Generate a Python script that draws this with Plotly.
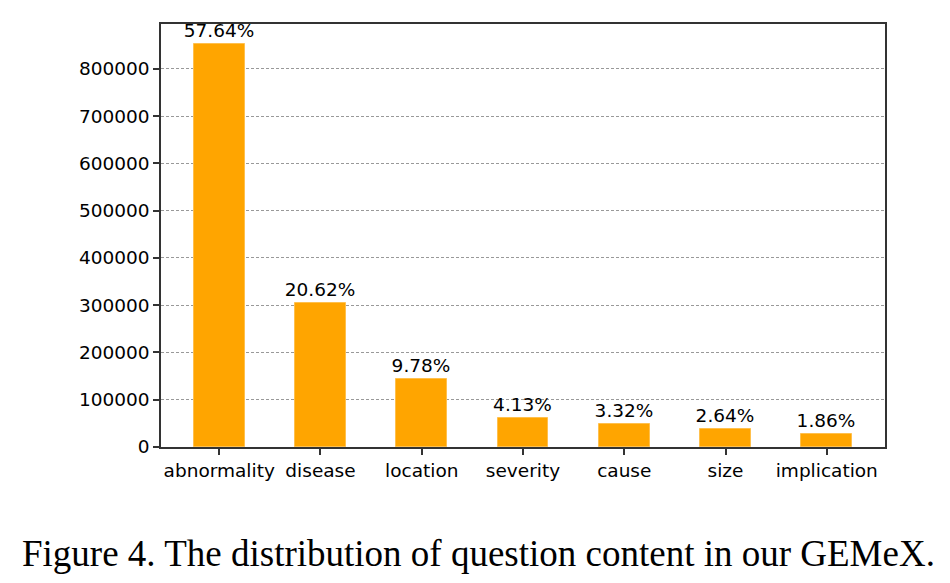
import plotly.graph_objects as go

categories = ["abnormality", "disease", "location", "severity", "cause", "size", "implication"]
counts = [853000, 305000, 144800, 61100, 49100, 39100, 27500]
pct_labels = ["57.64%", "20.62%", "9.78%", "4.13%", "3.32%", "2.64%", "1.86%"]
y_ticks = [0, 100000, 200000, 300000, 400000, 500000, 600000, 700000, 800000]

font_main = "DejaVu Sans"

fig = go.Figure()
fig.add_trace(go.Bar(
    x=categories,
    y=counts,
    width=0.5,
    marker=dict(color="#FFA500", line=dict(color="#FFC04D", width=1)),
    text=pct_labels,
    textposition="outside",
    constraintext="none",
    textfont=dict(family=font_main, size=18.5, color="black"),
    cliponaxis=False,
))

# page body has an 8px margin, so the figure is sized/offset to compensate
W, H = 942, 575
L, R, T, B = 153, 65, 16, 136

fig.update_layout(
    width=W, height=H,
    margin=dict(l=L, r=R, t=T, b=B),
    paper_bgcolor="white",
    plot_bgcolor="white",
    showlegend=False,
    font=dict(family=font_main, size=18.5, color="black"),
    bargap=0,
)

fig.update_xaxes(
    type="category",
    range=[-0.575, 6.575],
    showline=True, linecolor="#333333", linewidth=1.5, mirror=True,
    ticks="outside", ticklen=6, tickwidth=1.5, tickcolor="#333333",
    showgrid=False,
    tickfont=dict(family=font_main, size=18.5, color="black"),
)
fig.update_yaxes(
    range=[0, 895000],
    tickvals=y_ticks,
    ticktext=[str(v) for v in y_ticks],
    showline=True, linecolor="#333333", linewidth=1.5, mirror=True,
    ticks="outside", ticklen=6, tickwidth=1.5, tickcolor="#333333",
    showgrid=True, gridcolor="#999999", griddash="3px,2px", gridwidth=1,
    zeroline=False,
    tickfont=dict(family=font_main, size=18.5, color="black"),
)

plot_w = W - L - R
plot_h = H - T - B
fig.add_annotation(
    text="Figure 4. The distribution of question content in our GEMeX.",
    xref="paper", yref="paper",
    x=(478 - 8 - L) / plot_w, y=-(553 - 447) / plot_h,
    xanchor="center", yanchor="middle",
    showarrow=False,
    font=dict(family="Liberation Serif", size=37, color="black"),
)

fig.write_html("out.html")
